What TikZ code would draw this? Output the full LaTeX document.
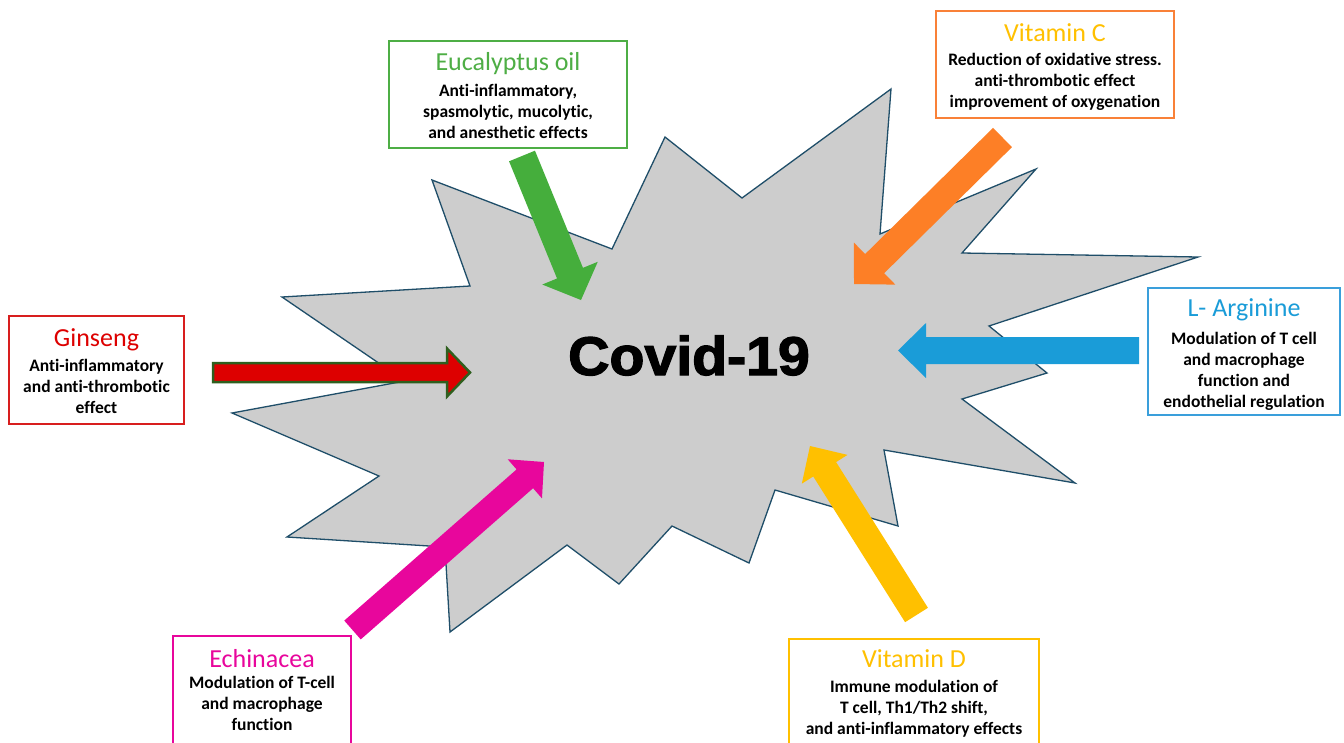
\documentclass[tikz,border=0pt]{standalone}
\usepackage{fontspec}
\setmainfont{Carlito}[Ligatures={NoCommon,NoContextual}]
\newfontfamily\covidfont{Liberation Sans}[BoldFeatures={FakeBold=2.2}]
\usetikzlibrary{calc}
\definecolor{starfill}{HTML}{CDCDCD}
\definecolor{starline}{HTML}{1F4E69}
\definecolor{eucgreen}{HTML}{45AE3C}
\definecolor{eucbox}{HTML}{4EAE45}
\definecolor{vcorange}{HTML}{FD7F26}
\definecolor{vcbox}{HTML}{F98138}
\definecolor{gold}{HTML}{FFC000}
\definecolor{argblue}{HTML}{1A9CD8}
\definecolor{argbox}{HTML}{3A9FDB}
\definecolor{gred}{HTML}{DD0000}
\definecolor{gredbox}{HTML}{D81E1E}
\definecolor{dkgreen}{HTML}{2F5F1E}
\definecolor{pink}{HTML}{E8069C}
\tikzset{
  box/.style={draw=#1, line width=2pt, inner sep=0pt, rectangle},
  ttl/.style={text=#1, font=\fontsize{26}{30}\selectfont, anchor=base, inner sep=0pt},
  bodytxt/.style={font=\bfseries\fontsize{17.5}{21}\selectfont, align=center, inner sep=0pt},
  starshape/.style={fill=starfill, draw=starline, line width=1.3pt, line join=miter},
}
\newcommand{\blockarrow}[6]{%
  \coordinate (T) at (#3);
  \coordinate (B) at ($(#3)!#6!(#2)$);
  \path[#1] ($(#2)!#4!90:(#3)$) -- ($(B)!#4!90:(T)$) -- ($(B)!#5!90:(T)$) -- (T)
    -- ($(B)!#5!-90:(T)$) -- ($(B)!#4!-90:(T)$) -- ($(#2)!#4!-90:(#3)$) -- cycle;
}
\begin{document}
\begin{tikzpicture}[x=1pt,y=-1pt]
\useasboundingbox (0,0) rectangle (1344,742);
\clip (0,0) rectangle (1344,742);
\fill[white] (0,0) rectangle (1344,742);

% star
\draw[starshape] (282,297) -- (470,286) -- (432,180) -- (612,249) -- (665,137) -- (742,198)
  -- (891,89) -- (880,234) -- (1036,169) -- (962,253) -- (1198,257) -- (989,326)
  -- (1047,373) -- (962,399) -- (1075,483) -- (884,450) -- (898,526) -- (775,490)
  -- (749,563) -- (672,526) -- (619,584) -- (567,545) -- (450,632) -- (445,547)
  -- (287,537) -- (379,476) -- (232,413) -- (405,381) -- cycle;

\node[font=\covidfont\bfseries\fontsize{54.5}{60}\selectfont, anchor=base, inner sep=0pt, xscale=1.05] (covid) at (689,375) {Covid-19};

% boxes
\node[box=eucbox, minimum width=238pt, minimum height=107pt] (eucbox) at (508,94.5) {};
\node[ttl=eucbox] (euct) at (508,70) {Eucalyptus oil};
\node[bodytxt] (eucb) at (508,111.5) {Anti-inflammatory,\\spasmolytic, mucolytic,\\and anesthetic effects};

\node[box=vcbox, minimum width=238pt, minimum height=107pt] (vcbox) at (1055,64.5) {};
\node[ttl=gold] (vct) at (1055,41) {Vitamin C};
\node[bodytxt] (vcb) at (1055,81.5) {Reduction of oxidative stress.\\anti-thrombotic effect\\improvement of oxygenation};

\node[box=argbox, minimum width=192pt, minimum height=127pt] (argbox) at (1244,351.5) {};
\node[ttl=argblue] (argt) at (1244,316) {L- Arginine};
\node[bodytxt] (argb) at (1244,371.5) {Modulation of T cell\\and macrophage\\function and\\endothelial regulation};

\node[box=gredbox, minimum width=175pt, minimum height=108pt] (ginbox) at (96.5,370) {};
\node[ttl=gred] (gint) at (96.5,346) {Ginseng};
\node[bodytxt] (ginb) at (96.5,386.5) {Anti-inflammatory\\and anti-thrombotic\\effect};

\node[box=pink, minimum width=178pt, minimum height=124pt] (echbox) at (262,698) {};
\node[ttl=pink] (echt) at (262,667) {Echinacea};
\node[bodytxt] (echb) at (262,703) {Modulation of T-cell\\and macrophage\\function};

\node[box=gold, minimum width=250pt, minimum height=121pt] (vdbox) at (914,699.5) {};
\node[ttl=gold] (vdt) at (914,667) {Vitamin D};
\node[bodytxt] (vdb) at (914,709) {Immune modulation of\\T cell, Th1/Th2 shift,\\and anti-inflammatory effects};

% arrows
\coordinate (gS) at (522,156);   \coordinate (gT) at (581,300);
\coordinate (oS) at (1002.5,137.5); \coordinate (oT) at (854,284);
\coordinate (bS) at (1139,350.5); \coordinate (bT) at (898,350.5);
\coordinate (rS) at (213,372.5); \coordinate (rT) at (470,372.5);
\coordinate (pS) at (352.5,630); \coordinate (pT) at (544,462);
\coordinate (yS) at (916.5,615); \coordinate (yT) at (810,446);

\blockarrow{fill=eucgreen}{gS}{gT}{14pt}{30pt}{29pt}
\blockarrow{fill=vcorange}{oS}{oT}{13.5pt}{29.5pt}{29pt}
\blockarrow{fill=argblue}{bS}{bT}{13.5pt}{27.5pt}{28pt}
\blockarrow{fill=gred, draw=dkgreen, line width=2.5pt, line join=miter}{rS}{rT}{9.5pt}{24pt}{23pt}
\blockarrow{fill=pink}{pS}{pT}{12.5pt}{26pt}{25.5pt}
\blockarrow{fill=gold}{yS}{yT}{13.5pt}{27pt}{27.5pt}
\end{tikzpicture}
\end{document}
